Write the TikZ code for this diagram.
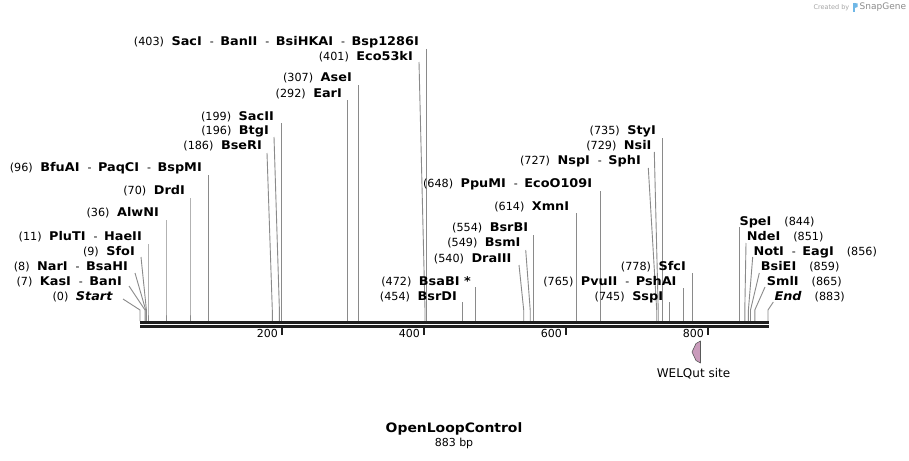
\documentclass[tikz,border=0pt]{standalone}
\usepackage{fontspec}
\setmainfont{DejaVu Sans}[BoldFeatures={FakeStretch=1.07},BoldItalicFeatures={FakeStretch=1.07}]
\definecolor{cutgray}{HTML}{8A8A8A}
\definecolor{welqfill}{HTML}{C99BBB}
\definecolor{sglogo}{HTML}{6FB7E6}
\newcommand\enzpos[1]{{\fontsize{11.2}{13}\selectfont(#1)}}
\newcommand\enzname[1]{\textbf{#1}}
\newcommand\enzdash{\hspace{8pt}{\fontsize{11}{13}\selectfont-}\hspace{6.5pt}}
\newcommand\enzgap{\hspace{7.5pt}}
\newcommand\rgap{\hspace{13pt}}
% left label: name, east x, y, text, top x, top y, site x
\newcommand\enzL[7]{%
  \node[lab,anchor=east] (#1) at (#2,#3) {#4};
  \coordinate (#1top) at (#5,#6);
  \coordinate (#1bend) at (#7,310);
  \coordinate (#1site) at (#7,321);
  \draw[cut] (#1top) -- (#1bend) -- (#1site);
}
% right label: name, west x, y, text, top x, top y, site x
\newcommand\enzR[7]{%
  \node[lab,anchor=west] (#1) at (#2,#3) {#4};
  \coordinate (#1top) at (#5,#6);
  \coordinate (#1bend) at (#7,310);
  \coordinate (#1site) at (#7,321);
  \draw[cut] (#1top) -- (#1bend) -- (#1site);
}
\begin{document}
\begin{tikzpicture}[x=1pt,y=-1pt,
  lab/.style={inner sep=0pt, font=\fontsize{12}{14}\selectfont, text=black},
  cut/.style={draw=cutgray, line width=0.9pt},
  seqline/.style={draw=black!88, line width=2.5pt},
  tickmark/.style={draw=black!88, line width=1.4pt},
  ticklab/.style={inner sep=0pt, font=\fontsize{11}{13}\selectfont},
  feat/.style={fill=welqfill, draw=black!65, line width=0.6pt, line join=round}]
\useasboundingbox (0,0) rectangle (909,460);
\fill[white] (0,0) rectangle (909,460);

% enzyme cut lines (drawn first, sequence on top)
\enzL{Start}{113}{297}{\enzpos{0}\enzgap\textbf{\textit{Start}}}{123}{299}{140}
\enzL{KasI}{122}{282}{\enzpos{7}\enzgap\enzname{KasI}\enzdash\enzname{BanI}}{129}{286}{145}
\enzL{NarI}{128}{267}{\enzpos{8}\enzgap\enzname{NarI}\enzdash\enzname{BsaHI}}{135}{273}{145.7}
\enzL{SfoI}{135}{252}{\enzpos{9}\enzgap\enzname{SfoI}}{141}{257}{146.4}
\enzL{PluTI}{142}{237}{\enzpos{11}\enzgap\enzname{PluTI}\enzdash\enzname{HaeII}}{148}{244}{148}
\enzL{AlwNI}{159}{213}{\enzpos{36}\enzgap\enzname{AlwNI}}{166}{220}{166}
\enzL{DrdI}{185}{191}{\enzpos{70}\enzgap\enzname{DrdI}}{190}{198}{190}
\enzL{BfuAI}{202}{168}{\enzpos{96}\enzgap\enzname{BfuAI}\enzdash\enzname{PaqCI}\enzdash\enzname{BspMI}}{208.5}{175}{208.5}
\enzL{BseRI}{262}{146}{\enzpos{186}\enzgap\enzname{BseRI}}{267}{153}{272.3}
\enzL{BtgI}{269}{131}{\enzpos{196}\enzgap\enzname{BtgI}}{274}{137}{279.4}
\enzL{SacII}{274}{117}{\enzpos{199}\enzgap\enzname{SacII}}{281.5}{123}{281.5}
\enzL{EarI}{342}{94}{\enzpos{292}\enzgap\enzname{EarI}}{347.7}{100}{347.7}
\enzL{AseI}{352}{78}{\enzpos{307}\enzgap\enzname{AseI}}{358.3}{85}{358.3}
\enzL{EcoFiftyThree}{413}{57}{\enzpos{401}\enzgap\enzname{Eco53kI}}{419}{62}{425}
\enzL{SacI}{419}{42}{\enzpos{403}\enzgap\enzname{SacI}\enzdash\enzname{BanII}\enzdash\enzname{BsiHKAI}\enzdash\enzname{Bsp1286I}}{426.5}{49}{426.5}
\enzL{BsrDI}{457}{297}{\enzpos{454}\enzgap\enzname{BsrDI}}{462.5}{302}{462.5}
\enzL{BsaBI}{471}{282}{\enzpos{472}\enzgap\enzname{BsaBI *}}{475.5}{287}{475.5}
\enzL{DraIII}{511.7}{259}{\enzpos{540}\enzgap\enzname{DraIII}}{519}{265}{523.7}
\enzL{BsmI}{520.7}{243}{\enzpos{549}\enzgap\enzname{BsmI}}{525.7}{250}{530.2}
\enzL{BsrBI}{528.3}{228}{\enzpos{554}\enzgap\enzname{BsrBI}}{533.5}{235}{533.5}
\enzL{XmnI}{569.3}{207}{\enzpos{614}\enzgap\enzname{XmnI}}{576.5}{213}{576.5}
\enzL{PpuMI}{592.3}{184}{\enzpos{648}\enzgap\enzname{PpuMI}\enzdash\enzname{EcoO109I}}{600.4}{191}{600.4}
\enzL{NspI}{641}{161}{\enzpos{727}\enzgap\enzname{NspI}\enzdash\enzname{SphI}}{648.3}{168}{656.7}
\enzL{NsiI}{651.7}{146}{\enzpos{729}\enzgap\enzname{NsiI}}{654.3}{152}{658.2}
\enzL{StyI}{656}{131}{\enzpos{735}\enzgap\enzname{StyI}}{662.3}{138}{662.3}
\enzL{SspI}{663.3}{297}{\enzpos{745}\enzgap\enzname{SspI}}{669.5}{302}{669.5}
\enzL{PvuII}{676.7}{282}{\enzpos{765}\enzgap\enzname{PvuII}\enzdash\enzname{PshAI}}{683.5}{288}{683.5}
\enzL{SfcI}{686}{267}{\enzpos{778}\enzgap\enzname{SfcI}}{692.5}{273}{692.5}

\enzR{SpeI}{739.3}{222}{\enzname{SpeI}\rgap\enzpos{844}}{739.5}{227}{739.5}
\enzR{NdeI}{746.7}{237}{\enzname{NdeI}\rgap\enzpos{851}}{746}{243}{744.8}
\enzR{NotI}{753.3}{252}{\enzname{NotI}\enzdash\enzname{EagI}\rgap\enzpos{856}}{752.7}{257}{748.4}
\enzR{BsiEI}{760.7}{267}{\enzname{BsiEI}\rgap\enzpos{859}}{759.3}{273}{750.5}
\enzR{SmlI}{766.7}{282}{\enzname{SmlI}\rgap\enzpos{865}}{765}{287}{754.8}
\enzR{End}{774.3}{297}{\textbf{\textit{End}}\rgap\enzpos{883}}{773.3}{302}{768}

% sequence (double line)
\coordinate (seqL) at (140,322.6);
\coordinate (seqR) at (769,322.6);
\draw[seqline] (seqL) -- (seqR);
\draw[seqline] ([yshift=-4pt]seqL) -- ([yshift=-4pt]seqR);

% ruler
\foreach \v/\x in {200/282,400/424,600/566,800/708}{
  \coordinate (tick\v) at (\x,327.5);
  \draw[tickmark] (tick\v) -- ++(0,7.5);
  \node[ticklab,anchor=east] (ticklab\v) at (\x-4,333) {\v};
}

% WELQut site feature
\draw[feat] (700.5,341) -- (696,343.5) -- (692,352) -- (696,360.5) -- (700.5,363) -- cycle;
\node[inner sep=0pt, font=\fontsize{12}{14}\selectfont] (welq) at (693.5,374) {WELQut site};

% title
\node[inner sep=0pt, font=\fontsize{13}{16}\selectfont\bfseries] (title) at (454,429) {OpenLoopControl};
\node[inner sep=0pt, font=\fontsize{11}{13}\selectfont] (len) at (454,443.5) {883 bp};

% watermark
\node[inner sep=0pt, anchor=east, font=\fontsize{6.5}{8}\selectfont, text=black!35] (created) at (849.5,7.5) {Created by};
\fill[sglogo] (852.5,3) rectangle (854.8,12.5);
\fill[sglogo] (854.8,3) -- (857.5,3.5) -- (857.5,7) -- (854.8,8) -- cycle;
\node[inner sep=0pt, anchor=west, font=\fontsize{9}{11}\selectfont, text=black!45] (snapgene) at (859.5,7.5) {SnapGene};
\end{tikzpicture}
\end{document}
